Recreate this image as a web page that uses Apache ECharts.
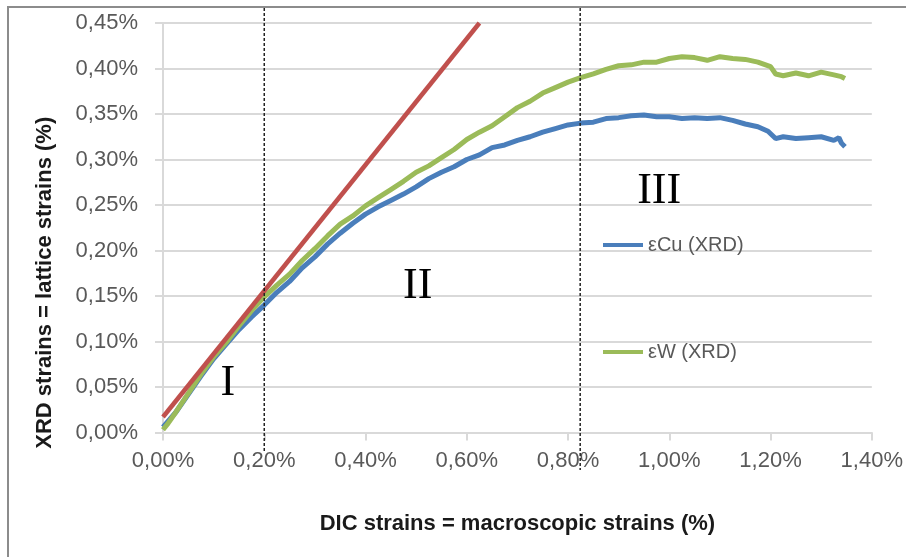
<!DOCTYPE html>
<html><head><meta charset="utf-8">
<script src="https://cdn.jsdelivr.net/npm/echarts@6/dist/echarts.min.js"></script>
<style>html,body{margin:0;padding:0;background:#fff}#c{width:906px;height:557px}</style>
</head><body><div id="c"></div>
<script>
// ---- data ----
const seriesNames = ['εCu (XRD)', 'εW (XRD)'];
const xAxisTitle = 'DIC strains = macroscopic strains (%)';
const yAxisTitle = 'XRD strains = lattice strains (%)';

const cuDIC = [0.000,0.025,0.050,0.075,0.100,0.125,0.150,0.175,0.200,0.225,0.250,0.275,0.300,0.325,0.350,0.375,0.400,0.425,0.450,0.475,0.500,0.525,0.550,0.575,0.600,0.625,0.650,0.675,0.700,0.725,0.750,0.775,0.800,0.825,0.850,0.875,0.900,0.925,0.950,0.975,1.000,1.025,1.050,1.075,1.100,1.125,1.150,1.175,1.195,1.210,1.225,1.250,1.275,1.300,1.325,1.335,1.340,1.347];
const cuXRD = [0.006,0.022,0.042,0.062,0.081,0.097,0.113,0.127,0.140,0.154,0.166,0.181,0.193,0.207,0.219,0.230,0.240,0.248,0.255,0.262,0.270,0.279,0.286,0.292,0.300,0.305,0.313,0.316,0.321,0.325,0.330,0.334,0.338,0.340,0.341,0.345,0.346,0.348,0.349,0.347,0.347,0.345,0.346,0.345,0.346,0.343,0.339,0.336,0.331,0.323,0.325,0.323,0.324,0.325,0.321,0.324,0.318,0.314];

const wDIC = [0.000,0.010,0.025,0.050,0.075,0.100,0.125,0.150,0.175,0.200,0.225,0.250,0.275,0.300,0.325,0.350,0.375,0.400,0.425,0.450,0.475,0.500,0.525,0.550,0.575,0.600,0.625,0.650,0.675,0.700,0.725,0.750,0.775,0.800,0.825,0.850,0.875,0.900,0.925,0.950,0.975,1.000,1.025,1.050,1.075,1.100,1.125,1.150,1.175,1.200,1.210,1.225,1.250,1.275,1.300,1.325,1.340,1.347];
const wXRD = [0.003,0.010,0.022,0.043,0.064,0.083,0.099,0.117,0.134,0.149,0.162,0.174,0.189,0.202,0.216,0.229,0.238,0.249,0.258,0.267,0.276,0.286,0.293,0.302,0.311,0.322,0.330,0.337,0.347,0.357,0.364,0.373,0.379,0.385,0.390,0.394,0.399,0.403,0.404,0.407,0.407,0.411,0.413,0.412,0.409,0.413,0.411,0.410,0.407,0.402,0.394,0.392,0.395,0.392,0.396,0.393,0.391,0.389];

const elasticDIC = [0.000, 0.625];
const elasticXRD = [0.017, 0.450];

const regionBounds = [0.20, 0.824];
const regionLabels = ['I', 'II', 'III'];
const regionLabelDIC = [0.128, 0.503, 0.980];
const regionLabelXRD = [0.054, 0.160, 0.265];

const xMin = 0, xMax = 1.4, xStep = 0.2;
const yMin = 0, yMax = 0.45, yStep = 0.05;

// ---- chart ----
const zip = (a, b) => a.map((v, i) => [v, b[i]]);
const fmt = v => v.toFixed(2).replace('.', ',') + '%';
const grey = '#595959';
const gridGrey = '#d9d9d9';

const chart = echarts.init(document.getElementById('c'), null, {renderer: 'canvas'});
const legendBase = {
  orient: 'vertical', left: 603, icon: 'rect', itemWidth: 40, itemHeight: 4, padding: 0,
  textStyle: {fontFamily: 'Liberation Sans', fontSize: 20, color: grey}
};
chart.setOption({
  animation: false,
  backgroundColor: '#fff',
  grid: {left: 163, right: 33, top: 23, bottom: 124.5, containLabel: false},
  legend: [
    Object.assign({}, legendBase, {data: [seriesNames[0]], top: 235}),
    Object.assign({}, legendBase, {data: [seriesNames[1]], top: 342})
  ],
  xAxis: {
    type: 'value', min: xMin, max: xMax, interval: xStep,
    name: xAxisTitle, nameLocation: 'middle', nameGap: 80,
    nameTextStyle: {fontFamily: 'Liberation Sans', fontWeight: 'bold', fontSize: 22, color: '#1a1a1a'},
    axisLine: {show: true, lineStyle: {color: gridGrey, width: 2}},
    axisTick: {show: true, inside: false, length: 8, lineStyle: {color: gridGrey, width: 2}},
    axisLabel: {formatter: fmt, margin: 17, fontFamily: 'Liberation Sans', fontSize: 22, color: grey},
    splitLine: {show: false}
  },
  yAxis: {
    type: 'value', min: yMin, max: yMax, interval: yStep,
    name: yAxisTitle, nameLocation: 'middle', nameGap: 107, nameRotate: 90,
    nameTextStyle: {fontFamily: 'Liberation Sans', fontWeight: 'bold', fontSize: 22, color: '#1a1a1a', padding: [0, 110, 0, 0]},
    axisLine: {show: true, lineStyle: {color: gridGrey, width: 2}},
    axisTick: {show: true, inside: false, length: 8, lineStyle: {color: gridGrey, width: 2}},
    axisLabel: {formatter: fmt, margin: 25, fontFamily: 'Liberation Sans', fontSize: 22, color: grey},
    splitLine: {show: true, lineStyle: {color: gridGrey, width: 2}}
  },
  series: [
    {name: seriesNames[0], type: 'line', data: zip(cuDIC, cuXRD), showSymbol: false, symbol: 'none',
     lineStyle: {color: '#4a7ebb', width: 5}, itemStyle: {color: '#4a7ebb'}, z: 3},
    {name: seriesNames[1], type: 'line', data: zip(wDIC, wXRD), showSymbol: false, symbol: 'none',
     lineStyle: {color: '#9bbb59', width: 5}, itemStyle: {color: '#9bbb59'}, z: 4},
    {name: 'elastic', type: 'line', data: zip(elasticDIC, elasticXRD), showSymbol: false, symbol: 'none',
     lineStyle: {color: '#c0504d', width: 4.5}, itemStyle: {color: '#c0504d'}, z: 5, clip: true}
  ]
});

const graphics = [
  {type: 'rect', shape: {x: 8, y: 7, width: 1000, height: 1000}, style: {fill: 'none', stroke: '#8c8c8c', lineWidth: 2}, silent: true}
];
regionBounds.forEach((b, i) => {
  const px = chart.convertToPixel({gridIndex: 0}, [b, 0])[0];
  graphics.push({type: 'line', shape: {x1: px, y1: 8, x2: px, y2: i === 0 ? 453 : 470},
    style: {stroke: '#222', lineWidth: 1.5, lineDash: [3, 2]}, z: 10, silent: true});
});
regionLabels.forEach((t, i) => {
  const p = chart.convertToPixel({gridIndex: 0}, [regionLabelDIC[i], regionLabelXRD[i]]);
  graphics.push({type: 'text', x: p[0], y: p[1], z: 10, silent: true,
    style: {text: t, fontFamily: 'Liberation Serif', fontSize: 44, fill: '#000', align: 'center', verticalAlign: 'middle'}});
});
chart.setOption({graphic: graphics});
</script></body></html>
